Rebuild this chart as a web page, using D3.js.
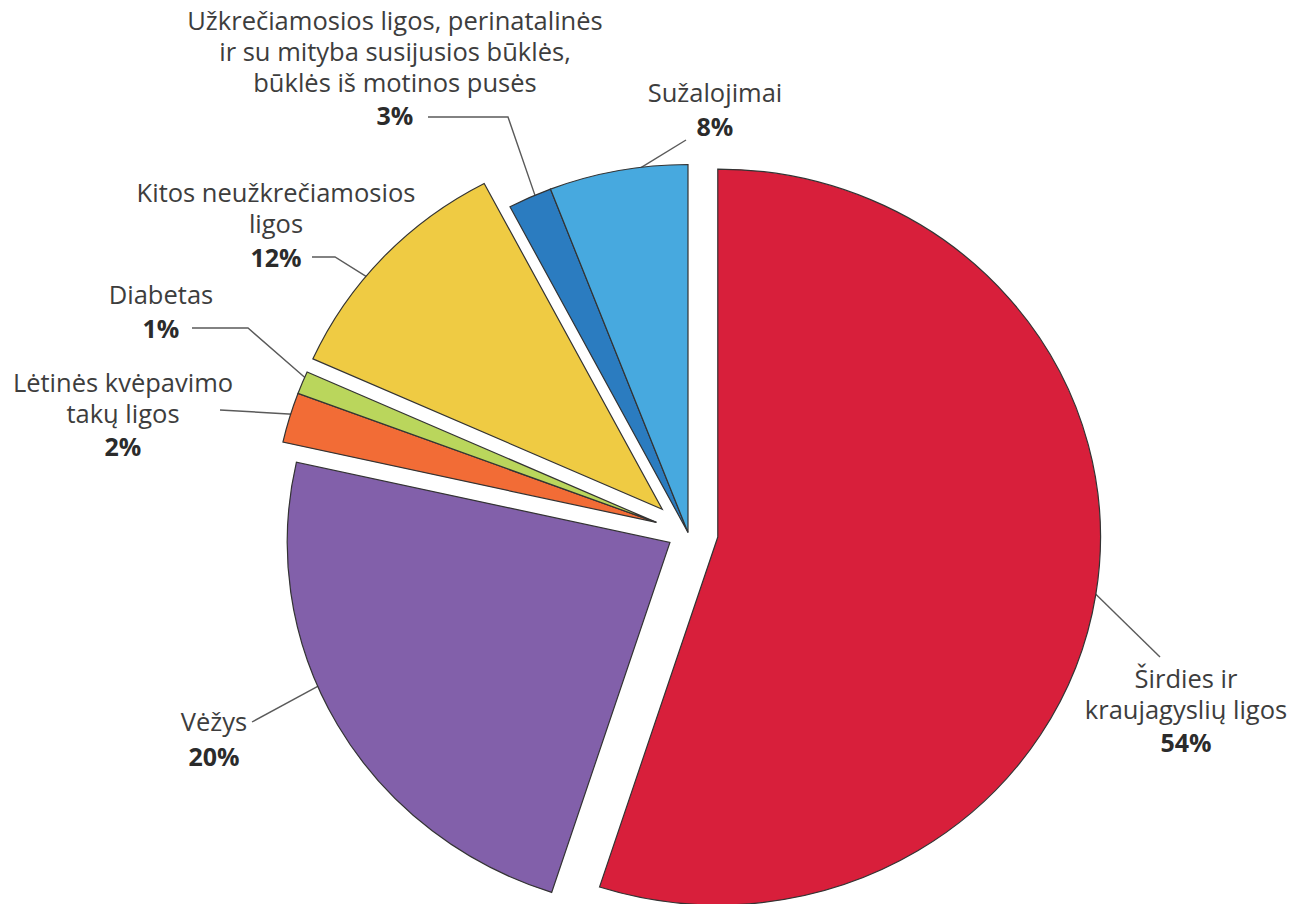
<!DOCTYPE html>
<html>
<head>
<meta charset="utf-8">
<script src="https://cdn.jsdelivr.net/npm/d3@7"></script>
<style>
  html, body { margin: 0; padding: 0; background: #ffffff; }
  svg { display: block; }
</style>
</head>
<body>
<svg id="chart" width="1295" height="904"></svg>
<script>
// ---------------- data ----------------
const categories = [
  "Širdies ir kraujagyslių ligos",
  "Vėžys",
  "Lėtinės kvėpavimo takų ligos",
  "Diabetas",
  "Kitos neužkrečiamosios ligos",
  "Užkrečiamosios ligos, perinatalinės ir su mityba susijusios būklės, būklės iš motinos pusės",
  "Sužalojimai"
];
const labelLines = [
  ["Širdies ir", "kraujagyslių ligos"],
  ["Vėžys"],
  ["Lėtinės kvėpavimo", "takų ligos"],
  ["Diabetas"],
  ["Kitos neužkrečiamosios", "ligos"],
  ["Užkrečiamosios ligos, perinatalinės", "ir su mityba susijusios būklės,", "būklės iš motinos pusės"],
  ["Sužalojimai"]
];
// percentages printed on the chart
const percentLabels = [54, 20, 2, 1, 12, 3, 8];
// slice sizes as actually drawn in the picture
const drawnShares = [55.0, 23.5, 2.2, 1.0, 10.6, 1.85, 5.85];
const colors = ["#d81f3b", "#8260aa", "#f26c36", "#bad65c", "#efcb43", "#2b7cc0", "#47a9df"];
// slices exploded together share a group
const explodeGroup = [0, 1, 2, 2, 3, 4, 4];

// ---------------- layout ----------------
const W = 1295, H = 904;
const cx = 688, cy = 532.5, R = 368, sx = 1.04;
const groupDist = [29, 20, 32, 34, 0];

const labelLayout = [
  { x: 1186, y: 688, pctY: 752, anchorAngle: 98.7, via: [[1160, 657]] },
  { x: 214, y: 731, pctY: 766, anchorAngle: 247, via: [[252, 722]] },
  { x: 123, y: 392, pctY: 456, anchorAngle: 287.2, via: [[220, 410]] },
  { x: 161, y: 304, pctY: 338, anchorAngle: 293.1, via: [[248, 328], [192, 328]] },
  { x: 276, y: 202, pctY: 267, anchorAngle: 309.3, via: [[335, 257], [312, 257]] },
  { x: 395, y: 30, pctY: 125, anchorAngle: 336.4, via: [[508, 117], [428, 117]] },
  { x: 715, y: 102, pctY: 136, anchorAngle: 352.4, via: [[686, 140]] }
];
const lineGap = 31;

const data = categories.map((c, i) => ({
  name: c, share: drawnShares[i], pct: percentLabels[i], color: colors[i], group: explodeGroup[i], i
}));

const pie = d3.pie().sort(null).value(d => d.share).startAngle(0).endAngle(2 * Math.PI);
const arcs = pie(data);
const arcGen = d3.arc().innerRadius(0).outerRadius(R);

// group bisectors
const groupRange = {};
arcs.forEach(a => {
  const g = a.data.group;
  if (!groupRange[g]) groupRange[g] = [a.startAngle, a.endAngle];
  groupRange[g][0] = Math.min(groupRange[g][0], a.startAngle);
  groupRange[g][1] = Math.max(groupRange[g][1], a.endAngle);
});
function offsetOf(g) {
  const mid = (groupRange[g][0] + groupRange[g][1]) / 2;
  const d = groupDist[g];
  return [d * Math.sin(mid), -d * Math.cos(mid)];
}

const svg = d3.select("#chart");
svg.append("rect").attr("width", W).attr("height", H).attr("fill", "#fff");

// leader lines (drawn under slices)
const toScreen = (ux, uy) => [cx + sx * ux, cy + uy];
const leaders = svg.append("g").attr("class", "leaders");
arcs.forEach((a, i) => {
  const L = labelLayout[i];
  const off = offsetOf(a.data.group);
  const ang = L.anchorAngle * Math.PI / 180;
  const p0 = toScreen(off[0] + (R - 2) * Math.sin(ang), off[1] - (R - 2) * Math.cos(ang));
  const pts = [p0].concat(L.via);
  leaders.append("path")
    .attr("d", d3.line()(pts))
    .attr("fill", "none")
    .attr("stroke", "#5a5a5a")
    .attr("stroke-width", 1.4);
});

// slices
const pieG = svg.append("g")
  .attr("transform", `translate(${cx},${cy}) scale(${sx},1)`);
pieG.selectAll("path.slice")
  .data(arcs)
  .join("path")
  .attr("class", "slice")
  .attr("transform", d => { const o = offsetOf(d.data.group); return `translate(${o[0]},${o[1]})`; })
  .attr("d", arcGen)
  .attr("fill", d => d.data.color)
  .attr("stroke", "#333")
  .attr("stroke-width", 1.2)
  .attr("stroke-linejoin", "miter")
  .attr("vector-effect", "non-scaling-stroke");

// labels
const labels = svg.append("g").attr("class", "labels")
  .attr("font-family", "'Open Sans', 'Noto Sans', sans-serif")
  .attr("text-anchor", "middle");
arcs.forEach((a, i) => {
  const L = labelLayout[i];
  const lines = labelLines[i];
  const t = labels.append("text")
    .attr("x", L.x).attr("y", L.y)
    .attr("font-size", 25.5)
    .attr("fill", "#3d3d3d");
  lines.forEach((ln, k) => {
    t.append("tspan").attr("x", L.x).attr("y", L.y + k * lineGap).text(ln);
  });
  labels.append("text")
    .attr("x", L.x).attr("y", L.pctY)
    .attr("font-size", 25)
    .attr("font-weight", 700)
    .attr("fill", "#2b2b2b")
    .text(a.data.pct + "%");
});
</script>
</body>
</html>
